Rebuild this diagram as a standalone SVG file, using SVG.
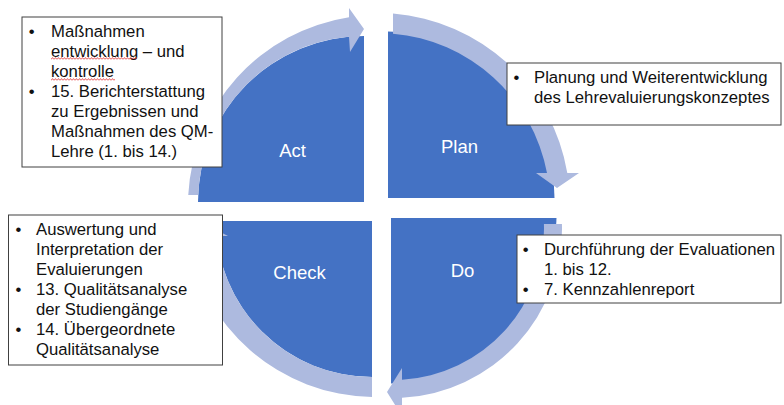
<svg xmlns="http://www.w3.org/2000/svg" width="784" height="405" viewBox="0 0 784 405">
<defs>
<style>
.quad{fill:#4472C4;}
.arrow{fill:#ADBADF;}
.lbl{font-family:"Liberation Sans",Arial,sans-serif;font-size:18.5px;fill:#FFFFFF;text-anchor:middle;}
.box{fill:#FFFFFF;stroke:#404040;stroke-width:1;}
.txt{font-family:"Liberation Sans",Arial,sans-serif;font-size:16.7px;fill:#111111;}
</style>
<pattern id="squiggle" width="3" height="3" patternUnits="userSpaceOnUse">
<path d="M0,2.5 L1.5,0.6 L3,2.5" fill="none" stroke="#E03030" stroke-width="0.8"/>
</pattern>
</defs>
<rect width="784" height="405" fill="#FFFFFF"/>

<g id="act">
<path class="quad" d="M364,202 H198 A166,166 0 0 1 364,36 Z"/>
<text class="lbl" x="292.5" y="157">Act</text>
</g>
<g id="plan">
<path class="quad" d="M388,198 V31.5 A166.5,166.5 0 0 1 554.5,198 Z"/>
<text class="lbl" x="459.5" y="153">Plan</text>
</g>
<g id="do">
<path class="quad" d="M391,218 H556.5 A165.5,165.5 0 0 1 391,383.5 Z"/>
<text class="lbl" x="462.5" y="277">Do</text>
</g>
<g id="check">
<path class="quad" d="M372,221 V377 A156,156 0 0 1 216,221 Z"/>
<text class="lbl" x="299.5" y="278.5">Check</text>
</g>

<g id="connectors">
<path class="arrow" d="M188.26,195 A190,190 0 0 1 349,17.23 L349,8 L364,29 L350,52 L349,36.68 A166,166 0 0 0 198.15,195 Z"/>
<path class="arrow" d="M393,13.59 A192,192 0 0 1 567.31,173 L579,173 L557,188 L536,173 L547,173 A172,172 0 0 0 393,33.66 Z"/>
<path class="arrow" d="M543.92,224 L561.93,224 A169,169 0 0 1 402,397.76 L402,416 L387,392 L402,368 L402,379.73 A151,151 0 0 0 543.92,224 Z"/>
<path class="arrow" d="M372,396.98 A190,190 0 0 1 187.23,236 L178,236 L199,221 L228,236 L216.72,236 A156,156 0 0 0 372,377 Z"/>
</g>

<g id="note-act">
<rect class="box" x="22" y="17" width="200" height="150"/>
<text class="txt" x="28.8" y="37">•</text>
<text class="txt" x="51" y="37">Maßnahmen</text>
<text class="txt" x="51" y="57">entwicklung – und</text>
<text class="txt" x="51" y="77">kontrolle</text>
<text class="txt" x="28.8" y="97">•</text>
<text class="txt" x="51" y="97">15. Berichterstattung</text>
<text class="txt" x="51" y="117">zu Ergebnissen und</text>
<text class="txt" x="51" y="137">Maßnahmen des QM-</text>
<text class="txt" x="51" y="157">Lehre (1. bis 14.)</text>
<rect x="51" y="57" width="86" height="3" fill="url(#squiggle)"/>
<rect x="51" y="78" width="64" height="3" fill="url(#squiggle)"/>
</g>

<g id="note-plan">
<rect class="box" x="507" y="63" width="274" height="62"/>
<text class="txt" x="513.4" y="83.3">•</text>
<text class="txt" x="534" y="83.3">Planung und Weiterentwicklung</text>
<text class="txt" x="534" y="103">des Lehrevaluierungskonzeptes</text>
</g>

<g id="note-check">
<rect class="box" x="8.5" y="215" width="214" height="150"/>
<text class="txt" x="15.4" y="234.5">•</text>
<text class="txt" x="36" y="234.5">Auswertung und</text>
<text class="txt" x="36" y="254.5">Interpretation der</text>
<text class="txt" x="36" y="274.5">Evaluierungen</text>
<text class="txt" x="15.4" y="294.5">•</text>
<text class="txt" x="36" y="294.5">13. Qualitätsanalyse</text>
<text class="txt" x="36" y="314.5">der Studiengänge</text>
<text class="txt" x="15.4" y="334.5">•</text>
<text class="txt" x="36" y="334.5">14. Übergeordnete</text>
<text class="txt" x="36" y="354.5">Qualitätsanalyse</text>
</g>

<g id="note-do">
<rect class="box" x="517" y="235" width="264" height="68"/>
<text class="txt" x="522.8" y="254.7">•</text>
<text class="txt" x="544" y="254.7">Durchführung der Evaluationen</text>
<text class="txt" x="544" y="274.7">1. bis 12.</text>
<text class="txt" x="522.8" y="294.7">•</text>
<text class="txt" x="544" y="294.7">7. Kennzahlenreport</text>
</g>
</svg>
